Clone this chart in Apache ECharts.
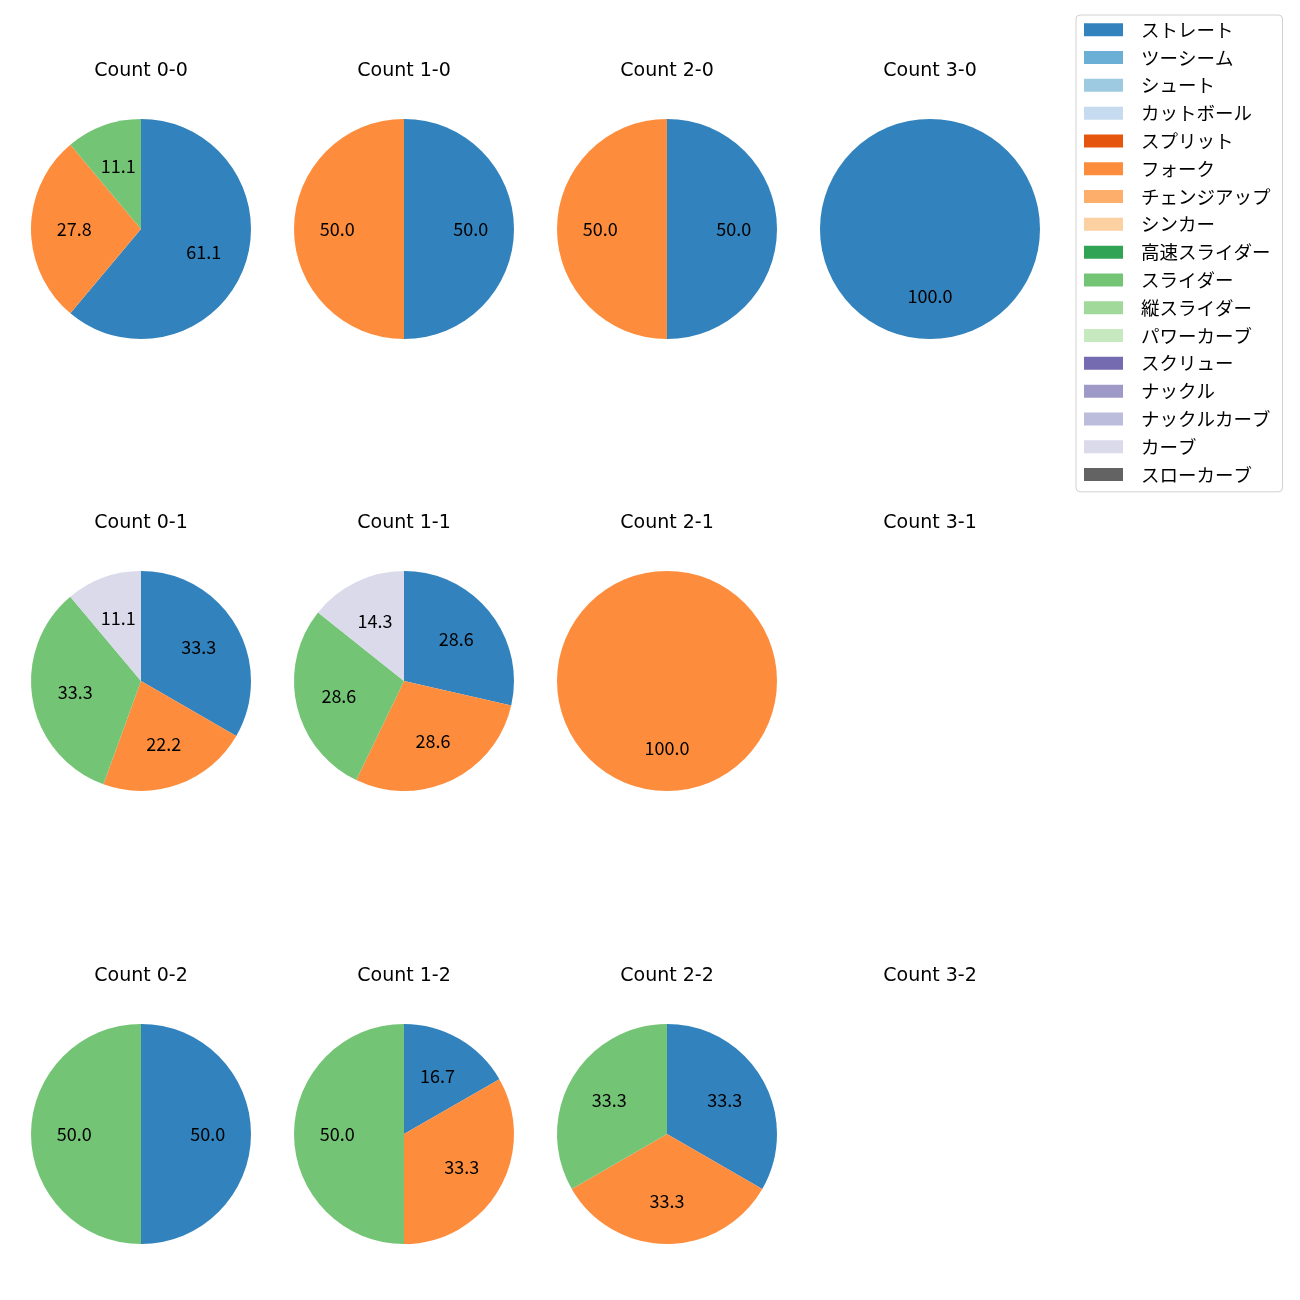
<!DOCTYPE html>
<html><head><meta charset="utf-8">
<script src="https://cdn.jsdelivr.net/npm/echarts@6/dist/echarts.min.js"></script>
<style>html,body{margin:0;padding:0;background:#fff}#c{width:1300px;height:1300px}</style>
</head><body><div id="c"></div>
<script>
const categories = ['ストレート','ツーシーム','シュート','カットボール','スプリット','フォーク','チェンジアップ','シンカー','高速スライダー','スライダー','縦スライダー','パワーカーブ','スクリュー','ナックル','ナックルカーブ','カーブ','スローカーブ'];
const colors = ['#3182bd','#6baed6','#9ecae1','#c6dbef','#e6550d','#fd8d3c','#fdae6b','#fdd0a2','#31a354','#74c476','#a1d99b','#c7e9c0','#756bb1','#9e9ac8','#bcbddc','#dadaeb','#636363'];
const titles = ['Count 0-0','Count 1-0','Count 2-0','Count 3-0','Count 0-1','Count 1-1','Count 2-1','Count 3-1','Count 0-2','Count 1-2','Count 2-2','Count 3-2'];
// each panel: list of [category, percent]
const count00 = [['ストレート',61.1],['フォーク',27.8],['スライダー',11.1]];
const count10 = [['ストレート',50.0],['フォーク',50.0]];
const count20 = [['ストレート',50.0],['フォーク',50.0]];
const count30 = [['ストレート',100.0]];
const count01 = [['ストレート',33.3],['フォーク',22.2],['スライダー',33.3],['カーブ',11.1]];
const count11 = [['ストレート',28.6],['フォーク',28.6],['スライダー',28.6],['カーブ',14.3]];
const count21 = [['フォーク',100.0]];
const count31 = [];
const count02 = [['ストレート',50.0],['スライダー',50.0]];
const count12 = [['ストレート',16.7],['フォーク',33.3],['スライダー',50.0]];
const count22 = [['ストレート',33.3],['フォーク',33.3],['スライダー',33.3]];
const count32 = [];
const panels = [count00,count10,count20,count30,count01,count11,count21,count31,count02,count12,count22,count32];

const colX = [141, 404, 667, 930];
const rowY = [229, 681, 1134];
const R = 110;
const FONT = '"Noto Sans CJK JP", "DejaVu Sans", sans-serif';
const TFONT = '"DejaVu Sans", sans-serif';
const colorOf = n => colors[categories.indexOf(n)];

const title = [];
const series = [];
panels.forEach((p, i) => {
  const cx = colX[i % 4], cy = rowY[Math.floor(i / 4)];
  title.push({text: titles[i], left: cx, top: cy - 168, textAlign: 'center', padding: 0,
    textStyle: {fontFamily: TFONT, fontSize: 19, lineHeight: 20, fontWeight: 'normal', color: '#000'}});
  if (!p.length) return;
  const data = p.map(([n, v]) => ({name: n, value: v, itemStyle: {color: colorOf(n)}}));
  series.push({type: 'pie', center: [cx, cy], radius: [0, R], startAngle: 90, clockwise: true,
    silent: true, animation: false, label: {show: false}, labelLine: {show: false},
    itemStyle: {borderWidth: 0}, emphasis: {disabled: true}, data});
  series.push({type: 'pie', center: [cx, cy], radius: [R * 0.16, R], startAngle: 90, clockwise: true,
    silent: true, animation: false, legendHoverLink: false,
    itemStyle: {color: 'rgba(0,0,0,0)', borderWidth: 0}, emphasis: {disabled: true},
    label: {show: true, position: 'inside', fontFamily: FONT, fontSize: 18, color: '#000',
      formatter: d => d.value.toFixed(1)},
    labelLine: {show: false},
    data: p.map(([n, v]) => ({name: '_' + n, value: v}))});
});
// legend provider
series.push({type: 'pie', center: [-500, -500], radius: 1, silent: true, animation: false,
  label: {show: false}, data: categories.map((n, k) => ({name: n, value: 1, itemStyle: {color: colors[k]}}))});

const chart = echarts.init(document.getElementById('c'), null, {renderer: 'canvas'});
chart.setOption({
  backgroundColor: '#fff',
  animation: false,
  title,
  legend: {
    data: categories, orient: 'vertical', left: 1076, top: 15,
    icon: 'rect', itemWidth: 39, itemHeight: 13, itemGap: 9.3,
    padding: [5.5, 12, 8, 8], borderColor: '#d0d0d0', borderWidth: 1, borderRadius: 4,
    selectedMode: false,
    textStyle: {fontFamily: FONT, fontSize: 18.5, color: '#000', lineHeight: 18, padding: [0, 0, 0, 13]}
  },
  series
});
</script></body></html>
